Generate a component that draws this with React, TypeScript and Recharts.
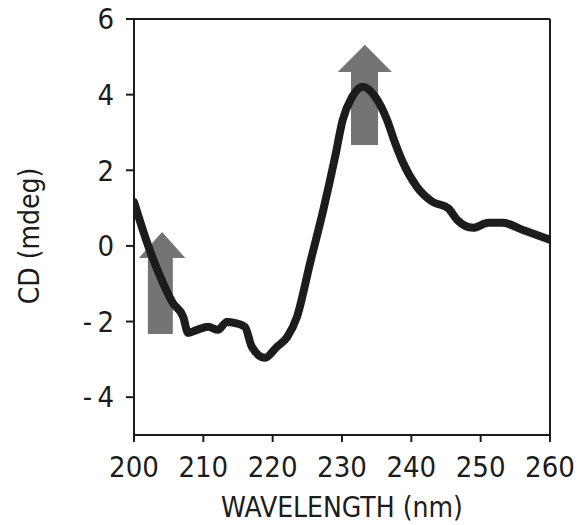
import React from 'react';
import {
  LineChart,
  Line,
  XAxis,
  YAxis,
  ReferenceArea,
  ReferenceLine,
} from 'recharts';

// CD spectrum: wavelength (nm) and ellipticity (mdeg)
const wavelength = [
  200, 201.9, 203.8, 205.6, 207.1, 207.8, 209.1, 210.7, 212.1, 213.4, 214.6,
  216.0, 217.0, 218.9, 220.6, 222.1, 223.5, 225.4, 227.3, 229.0, 230.1, 231.4,
  233.0, 234.8, 236.5, 237.6, 238.8, 240.8, 243.1, 245.3, 246.6, 248.9, 251.1,
  253.2, 256.1, 260,
];
const cd = [
  1.16, 0.08, -0.82, -1.51, -1.88, -2.3, -2.22, -2.14, -2.22, -2.01, -2.04,
  -2.14, -2.67, -2.96, -2.67, -2.41, -1.88, -0.45, 0.95, 2.35, 3.33, 3.92,
  4.21, 3.94, 3.33, 2.75, 2.2, 1.56, 1.16, 1.0, 0.69, 0.48, 0.61, 0.61, 0.42,
  0.16,
];

const xTicks = [200, 210, 220, 230, 240, 250, 260];
const yTicks = [-4, -2, 0, 2, 4, 6];

// Upward arrows: shaft [x1, x2, bottom, top], head [x1, x2, base, tip]
const arrowShafts = [
  [202.0, 205.6, -2.33, -0.32],
  [231.3, 235.2, 2.67, 4.6],
];
const arrowHeads = [
  [200.7, 207.4, -0.32, 0.37],
  [229.4, 237.2, 4.6, 5.32],
];

const data = wavelength.map((w, i) => ({ w, cd: cd[i] }));

const FONT = '"DejaVu Sans Condensed", "DejaVu Sans", sans-serif';
const INK = '#1c1c1c';
const ARROW = '#747474';

const Triangle = (props: any) => {
  const { x, y, width, height } = props;
  return (
    <polygon
      points={`${x},${y + height} ${x + width / 2},${y} ${x + width},${y + height}`}
      fill={ARROW}
    />
  );
};

const fmtY = (v: number) => (v < 0 ? `-\u2009${Math.abs(v)}` : `${v}`);

const YLabel = (props: any) => {
  const vb = props.viewBox || {};
  const cx = vb.x + 29;
  const cy = vb.y + vb.height / 2 + 9;
  return (
    <text
      x={cx}
      y={cy}
      transform={`rotate(-90 ${cx} ${cy})`}
      textAnchor="middle"
      dominantBaseline="central"
      fontFamily={FONT}
      fontSize={28}
      fill={INK}
    >
      CD (mdeg)
    </text>
  );
};

export default function App() {
  return (
    <div style={{ position: 'absolute', left: 0, top: 0, background: '#fff' }}>
      <LineChart
        width={578}
        height={525}
        data={data}
        margin={{ top: 19, right: 28, bottom: 0, left: 0 }}
      >
        <XAxis
          dataKey="w"
          type="number"
          domain={[200, 260]}
          ticks={xTicks}
          allowDataOverflow
          height={90}
          tickSize={7}
          tickMargin={14}
          stroke={INK}
          strokeWidth={2}
          tick={{ fontFamily: FONT, fontSize: 29, fill: INK }}
          label={{
            value: 'WAVELENGTH (nm)',
            position: 'insideBottom',
            offset: 8,
            fontFamily: FONT,
            fontSize: 28,
            fill: INK,
          }}
        />
        <YAxis
          type="number"
          domain={[-5, 6]}
          ticks={yTicks}
          allowDataOverflow
          width={134}
          tickSize={8}
          tickMargin={12}
          stroke={INK}
          strokeWidth={2}
          tickFormatter={fmtY}
          tick={{ fontFamily: FONT, fontSize: 29, fill: INK }}
          label={<YLabel />}
        />
        <ReferenceLine y={6} stroke={INK} strokeWidth={2} />
        <ReferenceLine x={260} stroke={INK} strokeWidth={2} />
        {arrowShafts.map((s, i) => (
          <ReferenceArea
            key={`shaft-${i}`}
            x1={s[0]}
            x2={s[1]}
            y1={s[2]}
            y2={s[3]}
            fill={ARROW}
            fillOpacity={1}
            stroke="none"
          />
        ))}
        {arrowHeads.map((h, i) => (
          <ReferenceArea
            key={`head-${i}`}
            x1={h[0]}
            x2={h[1]}
            y1={h[2]}
            y2={h[3]}
            shape={<Triangle />}
          />
        ))}
        <Line
          dataKey="cd"
          type="monotone"
          stroke={INK}
          strokeWidth={8}
          strokeLinejoin="round"
          strokeLinecap="round"
          dot={false}
          activeDot={false}
          isAnimationActive={false}
        />
      </LineChart>
    </div>
  );
}
